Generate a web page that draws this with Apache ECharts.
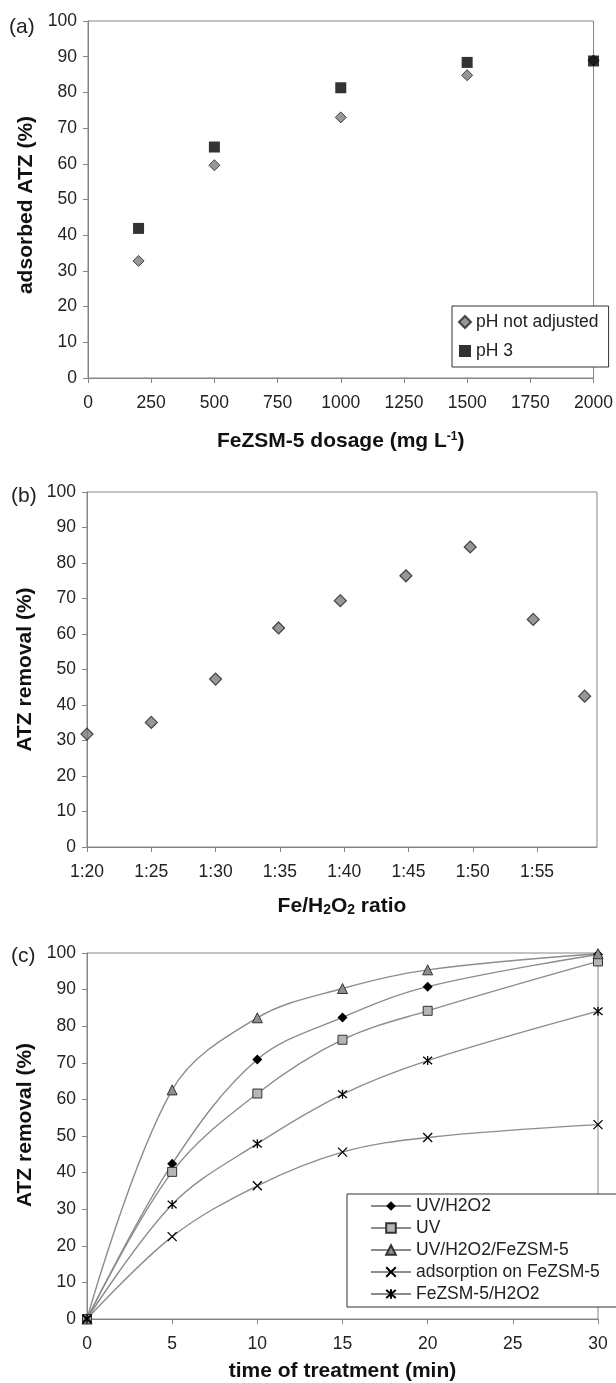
<!DOCTYPE html>
<html>
<head>
<meta charset="utf-8">
<script src="https://cdn.jsdelivr.net/npm/echarts@6/dist/echarts.min.js"></script>
<style>
html, body { margin: 0; padding: 0; background: #fff; }
#chart { width: 616px; height: 1383px; }
</style>
</head>
<body>
<div id="chart"></div>
<script>
// (a) ATZ adsorbed vs. FeZSM-5 dosage (mg/L)
const dosage = [200, 500, 1000, 1500, 2000];
const adsorbedNotAdjusted = [32.8, 59.6, 73.0, 84.8, 89.0];
const adsorbedPH3 = [41.9, 64.7, 81.3, 88.4, 88.8];

// (b) ATZ removal vs. Fe/H2O2 ratio, x = H2O2 part of 1:x
const ratioParts = [20, 25, 30, 34.9, 39.7, 44.8, 49.8, 54.7, 58.7];
const ratioRemoval = [31.8, 35.1, 47.3, 61.7, 69.4, 76.4, 84.5, 64.1, 42.5];
const ratioTickValues = [20, 25, 30, 35, 40, 45, 50, 55];

// (c) ATZ removal vs. time of treatment (min)
const treatmentTime = [0, 5, 10, 15, 20, 30];
const removalUvH2o2 = [0, 42.4, 70.9, 82.4, 90.8, 99.6];
const removalUv = [0, 40.2, 61.6, 76.3, 84.2, 97.7];
const removalUvH2o2Fe = [0, 62.6, 82.3, 90.3, 95.4, 99.8];
const removalAdsorption = [0, 22.5, 36.4, 45.6, 49.6, 53.1];
const removalFeH2o2 = [0, 31.3, 47.9, 61.4, 70.6, 84.1];

const FONT = "'Liberation Sans', Arial, sans-serif";
const AXIS_GREY = '#858585';
const LINE_GREY = '#8c8c8c';

const pairs = (xs, ys) => xs.map((x, i) => [x, ys[i]]);
const plain = v => String(v);

const cross = 'path://M0,0L10,10M10,0L0,10';
const asterisk = 'path://M0,0L10,10M10,0L0,10M5,-1L5,11';

function yAxisFor(gridIndex, name, namePadding) {
  return {
    gridIndex, type: 'value', min: 0, max: 100, interval: 10,
    name, nameLocation: 'middle', nameRotate: 90, nameGap: 47,
    nameTextStyle: { fontFamily: FONT, fontSize: 21, fontWeight: 'bold', color: '#111', padding: namePadding },
    axisLine: { show: true, lineStyle: { color: AXIS_GREY, width: 1 } },
    axisTick: { show: true, inside: false, length: 5, lineStyle: { color: AXIS_GREY } },
    axisLabel: { fontFamily: FONT, fontSize: 17.5, color: '#222', margin: 11, formatter: plain },
    splitLine: { show: false }
  };
}

function xAxisFor(gridIndex, name, nameGap, extra) {
  return Object.assign({
    gridIndex, type: 'value',
    name, nameLocation: 'middle', nameGap,
    nameTextStyle: {
      fontFamily: FONT, fontSize: 21, fontWeight: 'bold', color: '#111',
      rich: {
        sup: { fontFamily: FONT, fontSize: 12, fontWeight: 'bold', color: '#111', verticalAlign: 'top', padding: [0, 0, 8, 0] },
        sub: { fontFamily: FONT, fontSize: 14, fontWeight: 'bold', color: '#111', verticalAlign: 'bottom', padding: [6, 0, 0, 0] }
      }
    },
    axisLine: { show: true, onZero: false, lineStyle: { color: AXIS_GREY, width: 1 } },
    axisTick: { show: true, inside: false, length: 5, lineStyle: { color: AXIS_GREY } },
    axisLabel: { fontFamily: FONT, fontSize: 17.5, color: '#222', margin: 16, formatter: plain },
    splitLine: { show: false }
  }, extra || {});
}

const gridStyle = { show: true, borderColor: AXIS_GREY, borderWidth: 1, backgroundColor: 'transparent' };

function lineSeries(name, values, symbol, size, itemStyle) {
  return {
    name, type: 'line', xAxisIndex: 2, yAxisIndex: 2,
    data: pairs(treatmentTime, values),
    smooth: 0.35,
    symbol, symbolSize: size,
    lineStyle: { color: LINE_GREY, width: 1.4 },
    itemStyle,
    emphasis: { disabled: true },
    z: 3
  };
}

const option = {
  animation: false,
  backgroundColor: '#fff',
  textStyle: { fontFamily: FONT },
  grid: [
    Object.assign({ left: 88, top: 21, width: 506, height: 357 }, gridStyle),
    Object.assign({ left: 87, top: 492, width: 510, height: 355 }, gridStyle),
    Object.assign({ left: 87, top: 953, width: 511, height: 366 }, gridStyle)
  ],
  xAxis: [
    xAxisFor(0, 'FeZSM-5 dosage (mg L{sup|-1})', 53, { min: 0, max: 2000, interval: 250 }),
    xAxisFor(1, 'Fe/H{sub|2}O{sub|2} ratio', 49, {
      min: 20, max: 59.66,
      axisTick: { show: true, length: 5, lineStyle: { color: AXIS_GREY }, customValues: ratioTickValues },
      axisLabel: { fontFamily: FONT, fontSize: 17.5, color: '#222', margin: 16,
        customValues: ratioTickValues, formatter: v => '1:' + v }
    }),
    xAxisFor(2, 'time of treatment (min)', 42, { min: 0, max: 30, interval: 5 })
  ],
  yAxis: [
    yAxisFor(0, 'adsorbed ATZ (%)', [0, 11, 0, 0]),
    yAxisFor(1, 'ATZ removal (%)', [0, 0, 0, 0]),
    yAxisFor(2, 'ATZ removal (%)', [0, 0, 0, 22])
  ],
  legend: [
    {
      data: ['pH not adjusted', 'pH 3'],
      orient: 'vertical', left: 452, top: 306,
      padding: [7, 10, 7, 6], itemGap: 11, itemWidth: 12, itemHeight: 12,
      backgroundColor: '#fff', borderColor: '#333', borderWidth: 1, borderRadius: 0,
      selectedMode: false,
      textStyle: { fontFamily: FONT, fontSize: 17.5, lineHeight: 18, color: '#222' }
    },
    {
      data: ['UV/H2O2', 'UV', 'UV/H2O2/FeZSM-5', 'adsorption on FeZSM-5', 'FeZSM-5/H2O2'],
      orient: 'vertical', left: 347, top: 1194,
      padding: [3, 30, 4, 23], itemGap: 4, itemWidth: 40, itemHeight: 12,
      backgroundColor: '#fff', borderColor: '#333', borderWidth: 1, borderRadius: 0,
      selectedMode: false,
      textStyle: { fontFamily: FONT, fontSize: 17.5, lineHeight: 18, color: '#222' }
    }
  ],
  graphic: [
    { type: 'text', left: 9, top: 17, style: { text: '(a)', font: '21px ' + FONT, fill: '#222' } },
    { type: 'text', left: 11, top: 486, style: { text: '(b)', font: '21px ' + FONT, fill: '#222' } },
    { type: 'text', left: 11, top: 946, style: { text: '(c)', font: '21px ' + FONT, fill: '#222' } }
  ],
  series: [
    {
      name: 'pH not adjusted', type: 'scatter', xAxisIndex: 0, yAxisIndex: 0,
      data: pairs(dosage, adsorbedNotAdjusted),
      symbol: 'diamond', symbolSize: 11,
      itemStyle: { color: '#7d7d7d', borderColor: '#222', borderWidth: 1 },
      emphasis: { disabled: true }, z: 3
    },
    {
      name: 'pH 3', type: 'scatter', xAxisIndex: 0, yAxisIndex: 0,
      data: pairs(dosage, adsorbedPH3),
      symbol: 'rect', symbolSize: 11,
      itemStyle: { color: '#000' },
      emphasis: { disabled: true }, z: 4
    },
    {
      name: 'Fe/H2O2 ratio series', type: 'scatter', xAxisIndex: 1, yAxisIndex: 1,
      data: pairs(ratioParts, ratioRemoval),
      symbol: 'diamond', symbolSize: 12,
      itemStyle: { color: '#7d7d7d', borderColor: '#222', borderWidth: 1.2 },
      emphasis: { disabled: true }, z: 3
    },
    lineSeries('UV/H2O2', removalUvH2o2, 'diamond', 10, { color: '#000', borderColor: '#000', borderWidth: 0 }),
    lineSeries('UV', removalUv, 'rect', 9, { color: '#b5b5b5', borderColor: '#333', borderWidth: 1 }),
    lineSeries('UV/H2O2/FeZSM-5', removalUvH2o2Fe, 'triangle', 10, { color: '#8e8e8e', borderColor: '#333', borderWidth: 1 }),
    lineSeries('adsorption on FeZSM-5', removalAdsorption, cross, 9, { color: 'transparent', borderColor: '#000', borderWidth: 1.3 }),
    lineSeries('FeZSM-5/H2O2', removalFeH2o2, asterisk, 9, { color: 'transparent', borderColor: '#000', borderWidth: 1.3 })
  ]
};

const chart = echarts.init(document.getElementById('chart'), null, { renderer: 'canvas' });
chart.setOption(option);
</script>
</body>
</html>
